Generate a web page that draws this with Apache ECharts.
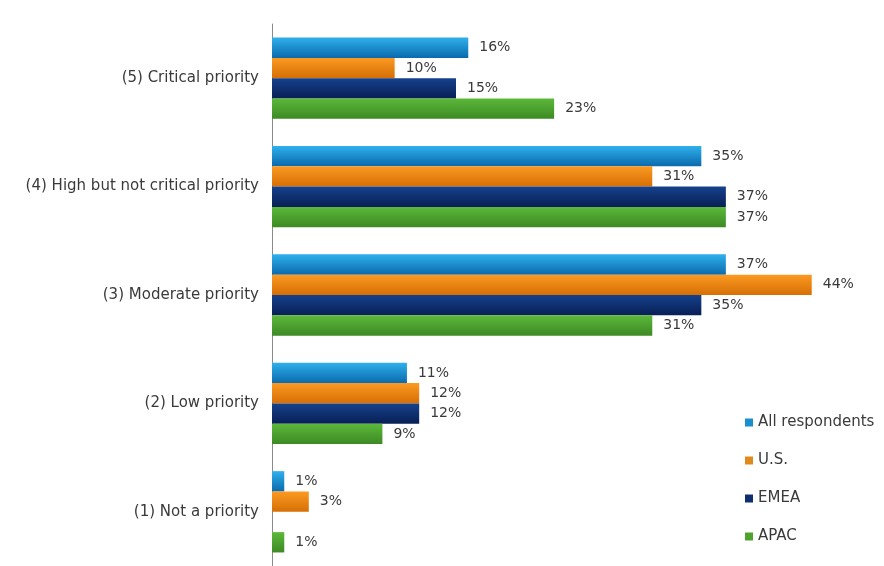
<!DOCTYPE html>
<html lang="en">
<head>
<meta charset="UTF-8">
<title>Priority by region</title>
<script src="https://cdn.jsdelivr.net/npm/echarts@6/dist/echarts.min.js"></script>
<style>
  html, body { margin: 0; padding: 0; background: #fff; }
  #chart { width: 884px; height: 566px; }
</style>
</head>
<body>
<div id="chart"></div>
<script>
  const categories = ['(5) Critical priority', '(4) High but not critical priority', '(3) Moderate priority', '(2) Low priority', '(1) Not a priority'];
  const allRespondents = [16, 35, 37, 11, 1];
  const us = [10, 31, 44, 12, 3];
  const emea = [15, 37, 35, 12, null];
  const apac = [23, 37, 31, 9, 1];

  function grad(top, bottom) {
    return new echarts.graphic.LinearGradient(0, 0, 0, 1, [
      { offset: 0, color: top },
      { offset: 1, color: bottom }
    ]);
  }

  const seriesDefs = [
    { name: 'All respondents', data: allRespondents, top: '#2fb0ec', bottom: '#0a6aad', legend: '#1a8fd0' },
    { name: 'U.S.', data: us, top: '#fb9a22', bottom: '#d66f05', legend: '#e08a1c' },
    { name: 'EMEA', data: emea, top: '#15418c', bottom: '#081f55', legend: '#0d2f6e' },
    { name: 'APAC', data: apac, top: '#5cb83a', bottom: '#3d8a24', legend: '#4ea32e' }
  ];

  let myChart = echarts.init(document.getElementById('chart'));

  let option = {
    animation: false,
    textStyle: { fontFamily: 'DejaVu Sans, sans-serif' },
    grid: { left: 272, top: 24, width: 552, height: 550 },
    legend: {
      orient: 'vertical',
      left: 740,
      top: 410,
      itemGap: 23,
      itemWidth: 8,
      itemHeight: 8,
      icon: 'rect',
      textStyle: { fontSize: 15, color: '#3a3a3a', fontFamily: 'DejaVu Sans' },
      data: seriesDefs.map(s => ({ name: s.name, itemStyle: { color: s.legend } }))
    },
    xAxis: {
      type: 'value',
      min: 0,
      max: 45,
      show: false
    },
    yAxis: {
      type: 'category',
      inverse: true,
      data: categories,
      axisLine: { show: true, lineStyle: { color: '#8a8a8a', width: 1 } },
      axisTick: { show: false },
      axisLabel: { fontSize: 15, color: '#3a3a3a', margin: 13, fontFamily: 'DejaVu Sans' }
    },
    series: seriesDefs.map(s => ({
      name: s.name,
      type: 'bar',
      data: s.data,
      barGap: '0%',
      barCategoryGap: '25%',
      itemStyle: { color: grad(s.top, s.bottom) },
      label: {
        show: true,
        position: 'right',
        distance: 11,
        fontSize: 14,
        color: '#3a3a3a',
        fontFamily: 'DejaVu Sans',
        formatter: p => p.value == null ? '' : p.value + '%'
      }
    }))
  };

  myChart.setOption(option);
</script>
</body>
</html>
